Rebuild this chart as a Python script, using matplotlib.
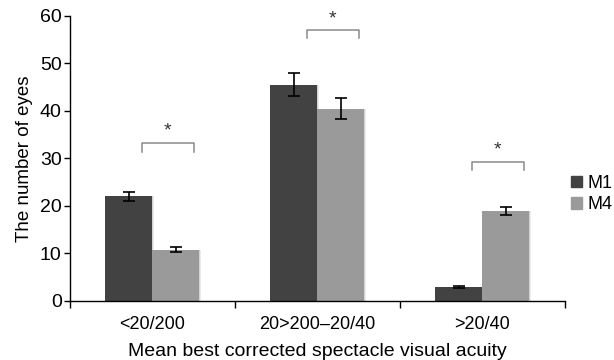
import numpy as np
import matplotlib.pyplot as plt
from matplotlib.patches import Patch

plt.rcParams['font.family'] = ['Liberation Sans', 'DejaVu Sans']

categories = ['<20/200', '20>200\u201320/40', '>20/40']
m1_values = [22.0, 45.5, 2.9]
m1_errors = [1.0, 2.4, 0.2]
m4_values = [10.8, 40.5, 18.9]
m4_errors = [0.6, 2.3, 0.9]
# significance brackets: (bracket height, leg bottom)
brackets = [(33.3, 31.3), (57.0, 55.3), (29.3, 27.5)]

fig = plt.figure(figsize=(6.14, 3.6), dpi=100)
ax = fig.add_axes([0.114, 0.164, 0.806, 0.792])

x = np.arange(len(categories))
w = 0.285

# soft shadow behind bars
for dx, alpha in [(0.012, 0.08), (0.006, 0.10)]:
    ax.bar(x - w / 2 + dx, m1_values, w, color='black', alpha=alpha, zorder=1)
    ax.bar(x + w / 2 + dx, m4_values, w, color='black', alpha=alpha, zorder=1)

ax.bar(x - w / 2, m1_values, w, color='#424242', zorder=2, label='M1')
ax.bar(x + w / 2, m4_values, w, color='#9a9a9a', zorder=2, label='M4')
ax.errorbar(x - w / 2, m1_values, yerr=m1_errors, fmt='none', ecolor='black',
            elinewidth=1.2, capsize=4.5, capthick=1.2, zorder=3)
ax.errorbar(x + w / 2, m4_values, yerr=m4_errors, fmt='none', ecolor='black',
            elinewidth=1.2, capsize=4.5, capthick=1.2, zorder=3)

for xi, (top, bottom) in zip(x, brackets):
    x0, x1 = xi - 0.065, xi + 0.25
    ax.plot([x0, x0, x1, x1], [bottom, top, top, bottom], color='#8a8a8a', lw=1.1, zorder=3)
    ax.text((x0 + x1) / 2, top + 0.6, '*', ha='center', va='bottom', fontsize=14, color='#333333')

ax.set_xlim(-0.5, 2.5)
ax.set_ylim(0, 60)
ax.set_yticks([0, 10, 20, 30, 40, 50, 60])
ax.set_xticks([-0.5, 0.5, 1.5, 2.5])
ax.set_xticklabels([])
ax.set_xticks(x, minor=True)
ax.set_xticklabels(categories, minor=True)
ax.tick_params(axis='x', which='minor', length=0, labelsize=13, pad=11)
ax.tick_params(axis='x', which='major', length=5, width=1)
ax.tick_params(axis='y', length=4, width=1, labelsize=14, pad=2)

for side in ['top', 'right']:
    ax.spines[side].set_visible(False)
for side in ['left', 'bottom']:
    ax.spines[side].set_linewidth(1)

ax.set_ylabel('The number of eyes', fontsize=13.5, labelpad=5)
ax.set_xlabel('Mean best corrected spectacle visual acuity', fontsize=14, labelpad=7)

handles = [Patch(color='#424242', label='M1'), Patch(color='#9a9a9a', label='M4')]
fig.legend(handles=handles, loc='upper left', bbox_to_anchor=(0.918, 0.535),
           frameon=False, fontsize=13, handlelength=0.6, handleheight=0.6,
           handletextpad=0.3, labelspacing=0.25, borderaxespad=0)

fig.savefig('out.png', dpi=100)
